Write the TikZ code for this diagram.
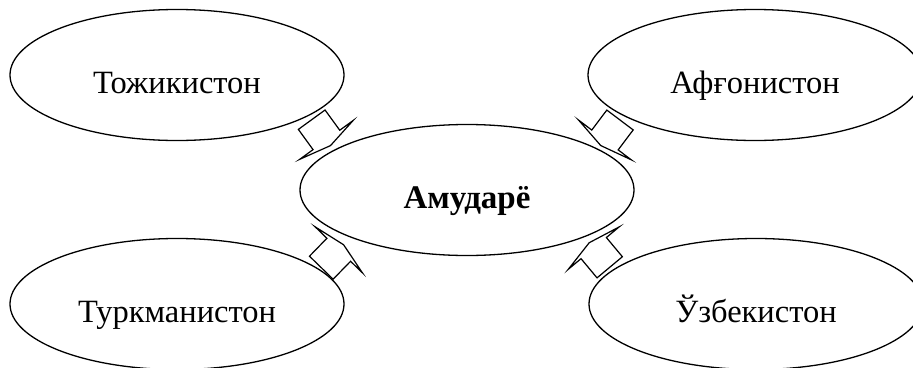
\documentclass[tikz,border=0pt]{standalone}
\usepackage{fontspec}
\setmainfont{Liberation Serif}
\usetikzlibrary{shapes.geometric}
\tikzset{
  ell/.style={draw, ellipse, line width=1.3pt, minimum width=334pt, minimum height=131pt,
    inner sep=0pt, font=\fontsize{32.5}{38}\selectfont, text height=36pt, text depth=0pt},
  barrow/.pic={\draw[line width=1.2pt, fill=white, line join=miter]
    (0,16.5) -- (25,16.5) -- (25,33) -- (32,0) -- (25,-33) -- (25,-16.5) -- (0,-16.5) -- cycle;}
}
\begin{document}
\begin{tikzpicture}[x=1pt,y=-1pt]
\useasboundingbox (0,0) rectangle (913,367);
\clip (0,0) rectangle (913,367);
\node[ell] (tj) at (177,75) {Тожикистон};
\node[ell] (af) at (755,75) {Афғонистон};
\node[ell] (tm) at (177,304) {Туркманистон};
\node[ell] (uz) at (756,304) {Ўзбекистон};
\node[ell, font=\fontsize{33}{39}\selectfont\bfseries] (am) at (467,190) {Амударё};
\pic[rotate=-54] at (311.7,119.7) {barrow};
\pic[rotate=-127] at (620,120) {barrow};
\pic[rotate=45.8] at (321.3,267.7) {barrow};
\pic[rotate=129.8] at (609.7,267.3) {barrow};
\end{tikzpicture}
\end{document}
